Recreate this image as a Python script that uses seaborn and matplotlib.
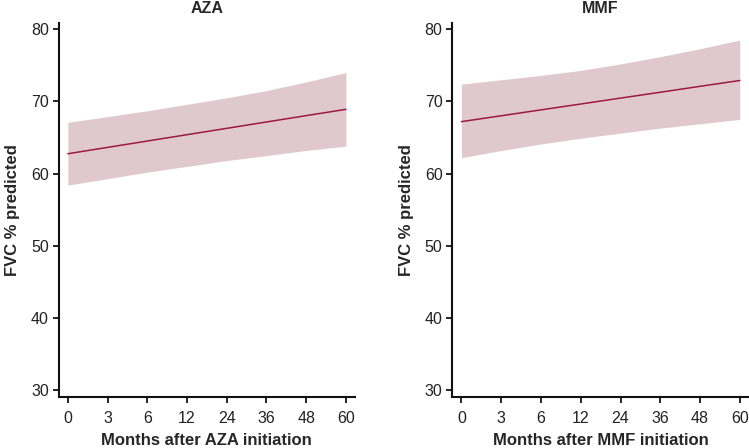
import numpy as np
import pandas as pd
import matplotlib
matplotlib.use("Agg")
import matplotlib.pyplot as plt
import seaborn as sns

# months on the x axis (shown as equally spaced categories)
months = [0, 3, 6, 12, 24, 36, 48, 60]

# AZA: fitted FVC % predicted and 95% band
aza_fit = [62.75, 63.63, 64.51, 65.39, 66.27, 67.15, 68.03, 68.9]
aza_lo = [58.4, 59.3, 60.2, 61.0, 61.8, 62.5, 63.2, 63.8]
aza_hi = [67.1, 67.9, 68.7, 69.6, 70.5, 71.5, 72.7, 74.0]

# MMF
mmf_fit = [67.2, 68.01, 68.83, 69.64, 70.46, 71.27, 72.09, 72.9]
mmf_lo = [62.2, 63.2, 64.1, 64.9, 65.6, 66.3, 66.9, 67.5]
mmf_hi = [72.4, 73.0, 73.6, 74.3, 75.2, 76.2, 77.3, 78.5]

sns.set_style("ticks")
plt.rcParams['font.family'] = ['Liberation Sans', 'DejaVu Sans']

line_col = "#9c1a42"
band_col = "#e0c9ce"

fig = plt.figure(figsize=(7.49, 4.48), dpi=100)
ax1 = fig.add_axes([0.0784, 0.1132, 0.3956, 0.836])
ax2 = fig.add_axes([0.6039, 0.1132, 0.396, 0.836])

panels = [
    (ax1, "AZA", aza_fit, aza_lo, aza_hi),
    (ax2, "MMF", mmf_fit, mmf_lo, mmf_hi),
]

pos = np.arange(len(months))

for ax, name, fit, lo, hi in panels:
    ax.fill_between(pos, lo, hi, color=band_col, linewidth=0)
    df = pd.DataFrame({"pos": pos, "fvc": fit})
    sns.lineplot(data=df, x="pos", y="fvc", ax=ax, color=line_col, linewidth=1.1)
    ax.set_xlim(-0.23, 7.23)
    ax.set_ylim(29, 80.9)
    ax.set_xticks(pos)
    ax.set_xticklabels([str(m) for m in months])
    ax.set_yticks([30, 40, 50, 60, 70, 80])
    ax.tick_params(axis="both", labelsize=11.5, length=4, width=1.2, color="black",
                   labelcolor="#222222")
    ax.tick_params(axis="x", pad=6)
    ax.tick_params(axis="y", pad=3)
    for s in ["left", "bottom"]:
        ax.spines[s].set_linewidth(1.5)
        ax.spines[s].set_color("#111111")
    sns.despine(ax=ax)
    ax.set_title(name, fontsize=11.5, fontweight="bold", pad=7)
    ax.set_xlabel(f"Months after {name} initiation", fontsize=12, fontweight="bold", labelpad=5)
    ax.set_ylabel("FVC % predicted", fontsize=12, fontweight="bold", labelpad=8)

fig.savefig("out.png", dpi=100)
